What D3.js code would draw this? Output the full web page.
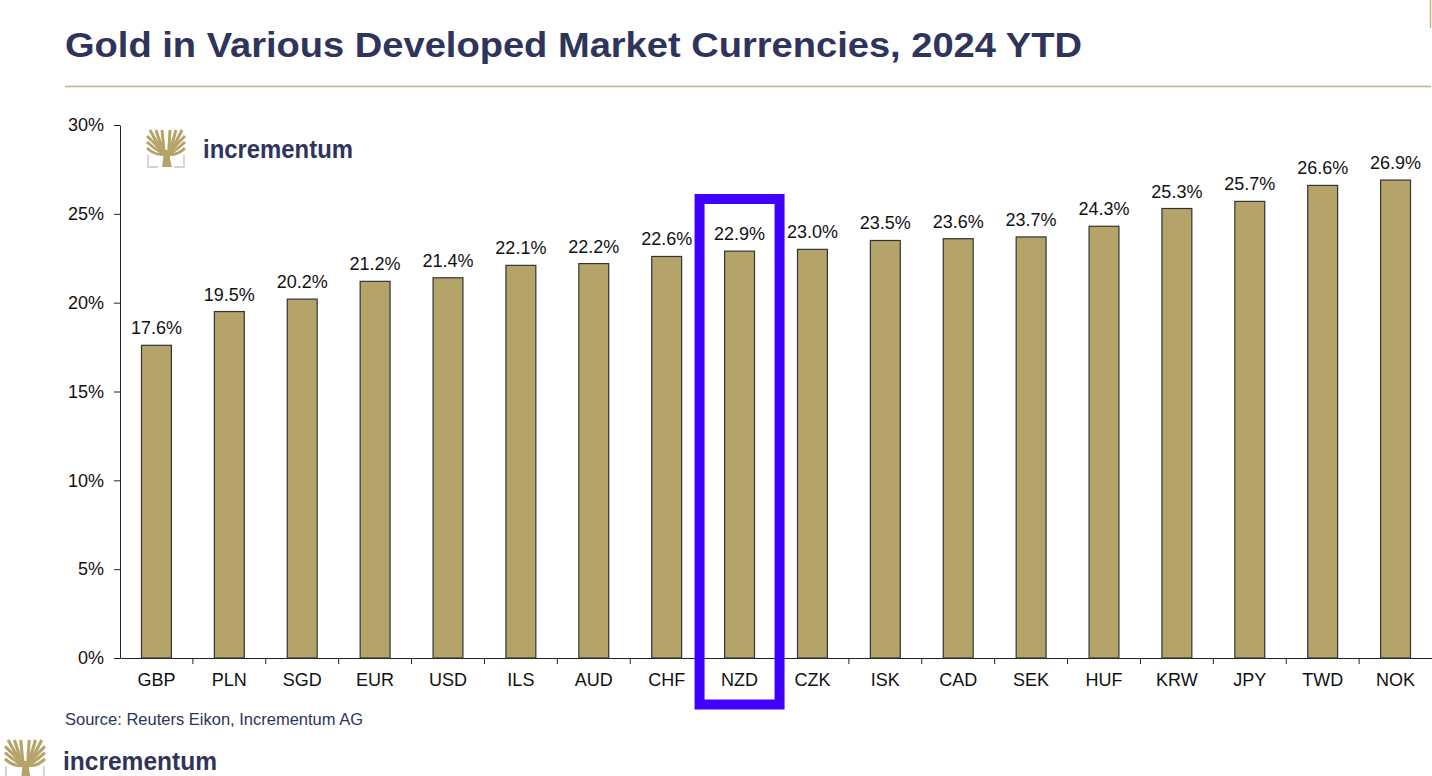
<!DOCTYPE html>
<html><head><meta charset="utf-8">
<script src="https://cdn.jsdelivr.net/npm/d3@7"></script>
<style>body{margin:0;background:#fff;}svg{display:block;}</style>
</head><body>
<svg id="c" width="1432" height="776"></svg>
<script>
const categories = ["GBP","PLN","SGD","EUR","USD","ILS","AUD","CHF","NZD","CZK","ISK","CAD","SEK","HUF","KRW","JPY","TWD","NOK"];
const values = [17.6,19.5,20.2,21.2,21.4,22.1,22.2,22.6,22.9,23.0,23.5,23.6,23.7,24.3,25.3,25.7,26.6,26.9];
const yTicks = [0,5,10,15,20,25,30];
const highlight = "NZD";
const title = "Gold in Various Developed Market Currencies, 2024 YTD";
const source = "Source: Reuters Eikon, Incrementum AG";

const svg = d3.select("#c");
const navy = "#2e345c", gold = "#b5a46a";
const FF = "Liberation Sans, Arial, sans-serif";

// title
svg.append("text").attr("x",65).attr("y",57).text(title)
  .attr("font-family",FF).attr("font-weight","bold")
  .attr("font-size",35).attr("fill",navy).attr("textLength",1017).attr("lengthAdjust","spacingAndGlyphs");
svg.append("line").attr("x1",65).attr("x2",1431).attr("y1",86.5).attr("y2",86.5).attr("stroke","#c2b47e").attr("stroke-width",1.5);
svg.append("line").attr("x1",1430.5).attr("x2",1430.5).attr("y1",0).attr("y2",28).attr("stroke","#c2b47e").attr("stroke-width",1.5);

const x = d3.scaleBand().domain(categories).range([120,1432]).paddingInner(0.59).paddingOuter(0.295);
const y = d3.scaleLinear().domain([0,30]).range([658,125]);

// logo function
function logo(g, s, tx, ty){
  const G = g.append("g").attr("transform",`translate(${tx},${ty}) scale(${s})`);
  G.append("path").attr("d","M1,25 V37 H11 M37,25 V37 H27").attr("fill","none").attr("stroke","#d6d2cc").attr("stroke-width",1.8);
  G.append("path").attr("d","M15,37 Q17,28 16,20 L23,20 Q22,28 25,37 Z").attr("fill",gold);
  const ends=[[3,0],[9,0],[15,0],[23,0],[29,0],[35,0],[0,6],[38,6],[0,12],[38,12],[0,18],[38,18]];
  ends.forEach(([ex,ey])=>{
    const sx = ex<19 ? 17.5 : 21.5;
    G.append("path").attr("d",`M${sx},24 Q${(sx+ex)/2},${ey<3?ey+14:ey+8} ${ex},${ey}`).attr("fill","none").attr("stroke",gold).attr("stroke-width",3).attr("stroke-linecap","butt");
  });
}
logo(svg,1.0,147,130);
svg.append("text").attr("x",203).attr("y",158).text("incrementum").attr("font-family",FF)
  .attr("font-weight","bold").attr("font-size",25).attr("fill",navy).attr("textLength",150).attr("lengthAdjust","spacingAndGlyphs");
logo(svg,1.05,5,740);
svg.append("text").attr("x",63).attr("y",770).text("incrementum").attr("font-family",FF)
  .attr("font-weight","bold").attr("font-size",26).attr("fill",navy).attr("textLength",154).attr("lengthAdjust","spacingAndGlyphs");

// axes
const yAxis = svg.append("g").attr("transform","translate(120,0)")
  .call(d3.axisLeft(y).tickValues(yTicks).tickFormat(d=>d+"%").tickSize(6).tickSizeOuter(0));
yAxis.select(".domain").attr("stroke","#222");
yAxis.selectAll("line").attr("stroke","#222");
yAxis.selectAll("text").attr("font-family",FF).attr("font-size",18).attr("fill","#111").attr("x",-16);

const xAxis = svg.append("g").attr("transform","translate(0,658)")
  .call(d3.axisBottom(x).tickSize(0).tickSizeOuter(0));
xAxis.select(".domain").attr("stroke","#222");
xAxis.selectAll("text").attr("font-family",FF).attr("font-size",18).attr("fill","#111").attr("dy","0").attr("y",28);
const step = x.step();
categories.forEach((c,i)=>{
  const bx = x(c) - x.paddingInner()*step/2 ;
  if(i>0) svg.append("line").attr("x1",bx).attr("x2",bx).attr("y1",658).attr("y2",664).attr("stroke","#222");
});

// bars
svg.append("g").selectAll("rect").data(values).join("rect")
  .attr("x",(d,i)=>x(categories[i])).attr("width",x.bandwidth())
  .attr("y",d=>y(d)).attr("height",d=>y(0)-y(d))
  .attr("fill",gold).attr("stroke","#333").attr("stroke-width",1.2);
svg.append("g").selectAll("text").data(values).join("text")
  .attr("x",(d,i)=>x(categories[i])+x.bandwidth()/2).attr("y",d=>y(d)-11)
  .attr("text-anchor","middle").text(d=>d.toFixed(1)+"%")
  .attr("font-family",FF).attr("font-size",18).attr("fill","#111");

// highlight box
const hx = x(highlight)+x.bandwidth()/2;
svg.append("rect").attr("x",hx-40).attr("y",199).attr("width",80).attr("height",505.5)
  .attr("fill","none").attr("stroke","#3f00ff").attr("stroke-width",10);

svg.append("text").attr("x",65).attr("y",725).text(source).attr("font-family",FF)
  .attr("font-size",16.5).attr("fill",navy);
</script>
</body></html>
